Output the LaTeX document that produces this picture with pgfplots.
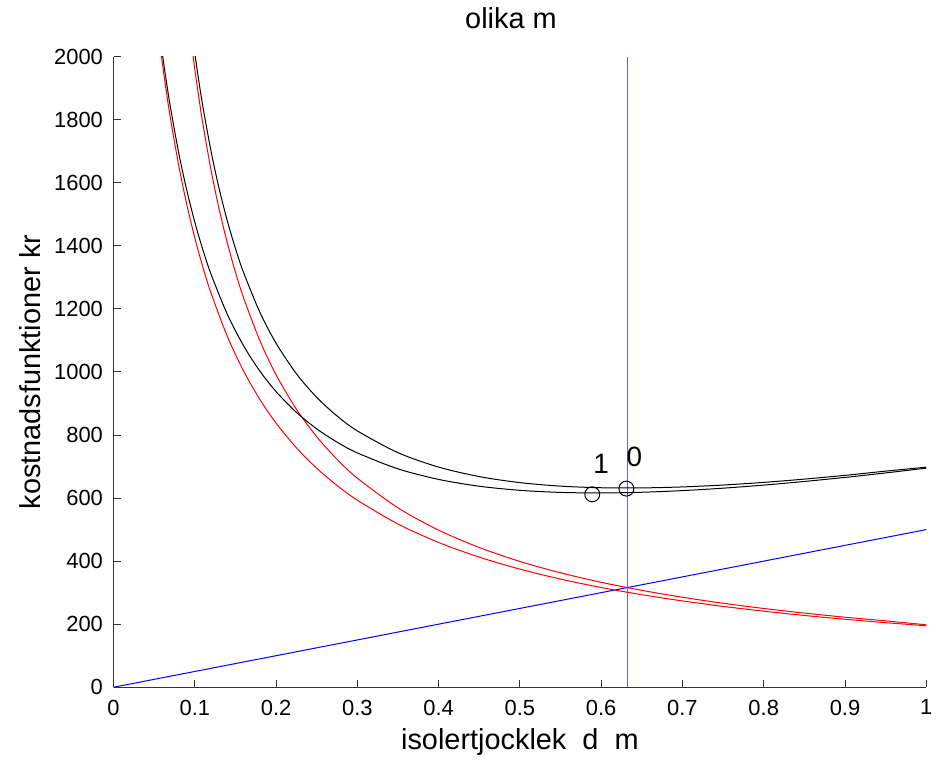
\documentclass[border=0pt]{standalone}
\usepackage{fontspec}
\setmainfont{Liberation Sans}
\usepackage{pgfplots}
\pgfplotsset{compat=1.18}
\definecolor{vline}{RGB}{102,102,230}
\begin{document}
\begin{tikzpicture}
\begin{axis}[
  at={(0,0)}, anchor=south west,
  scale only axis, width=408pt, height=316.5pt,
  xmin=0, xmax=1, ymin=0, ymax=2000,
  axis x line*=bottom, axis y line*=left,
  axis line style={-, black!80, line width=0.5pt},
  tick align=inside, major tick length=3.8pt,
  tick style={black!80, line width=0.5pt},
  xtick={0,0.1,0.2,0.3,0.4,0.5,0.6,0.7,0.8,0.9,1},
  ytick={0,200,400,600,800,1000,1200,1400,1600,1800,2000},
  scaled ticks=false,
  /pgf/number format/1000 sep={},
  /pgf/number format/assume math mode=true,
  tick label style={font=\fontsize{11}{13}\selectfont},
  xticklabel style={yshift=-2.8pt},
  yticklabel style={xshift=-1.8pt},
  xlabel={isolertjocklek\ \ d\ \ m},
  ylabel={kostnadsfunktioner kr},
  xlabel style={font=\fontsize{14.5}{17}\selectfont, at={(axis description cs:0.5,-0.0869)}, anchor=center},
  ylabel style={font=\fontsize{14.5}{17}\selectfont, at={(axis description cs:-0.1029,0.5)}, anchor=center, rotate=0},
  title={olika m},
  title style={font=\fontsize{14.5}{17}\selectfont, at={(axis description cs:0.489,1.0427)}, anchor=center},
  clip=true,
]
% vertical line at optimum
\addplot[vline, line width=0.5pt] coordinates {(0.632,0) (0.632,2000)};
% blue linear cost
\addplot[blue, line width=0.5pt] coordinates {(0,0) (1,500)};
% red curve 1
\addplot[red, line width=0.5pt, smooth, tension=0.5] coordinates {
(0.055,2082.5) (0.06,1981.0) (0.065,1888.9) (0.07,1805.1) (0.08,1657.8) (0.09,1532.8)
(0.10,1425.3) (0.11,1331.9) (0.12,1250.0) (0.14,1113.1) (0.16,1003.2) (0.18,913.1)
(0.20,837.8) (0.225,759.5) (0.25,694.6) (0.275,640.0) (0.30,593.3) (0.35,517.7)
(0.40,459.2) (0.45,412.6) (0.50,374.6) (0.55,343.0) (0.60,316.3) (0.65,293.5)
(0.70,273.7) (0.75,256.4) (0.80,241.2) (0.85,227.7) (0.90,215.6) (0.95,204.8) (1.00,194.9)};
% red curve 2
\addplot[red, line width=0.5pt, smooth, tension=0.5] coordinates {
(0.095,2061.7) (0.10,1960.9) (0.105,1869.4) (0.11,1786.1) (0.12,1640.0) (0.13,1515.9)
(0.14,1409.3) (0.15,1316.7) (0.16,1235.5) (0.18,1099.9) (0.20,991.1) (0.225,882.0)
(0.25,794.6) (0.275,723.0) (0.30,663.1) (0.35,569.0) (0.40,498.3) (0.45,443.2)
(0.50,399.0) (0.55,362.9) (0.60,332.8) (0.65,307.3) (0.70,285.4) (0.75,266.4)
(0.80,249.8) (0.85,235.2) (0.90,222.1) (0.95,210.5) (1.00,198.0)};
% black curve 1 (total, case 1)
\addplot[black, line width=0.5pt, smooth, tension=0.5] coordinates {
(0.055,2110.0) (0.06,2011.0) (0.065,1921.4) (0.07,1840.1) (0.08,1697.8) (0.09,1577.8)
(0.10,1475.3) (0.11,1386.9) (0.12,1310.0) (0.14,1183.1) (0.16,1083.2) (0.18,1003.1)
(0.20,937.8) (0.225,872.0) (0.25,819.6) (0.275,777.5) (0.30,743.3) (0.35,692.7)
(0.40,659.2) (0.45,637.6) (0.50,624.6) (0.55,618.0) (0.60,616.3) (0.65,618.5)
(0.70,623.7) (0.75,631.4) (0.80,641.2) (0.85,652.7) (0.90,665.6) (0.95,679.8) (1.00,694.9)};
% black curve 2 (total, case 0)
\addplot[black, line width=0.5pt, smooth, tension=0.5] coordinates {
(0.095,2109.2) (0.10,2010.9) (0.105,1921.9) (0.11,1841.1) (0.12,1700.0) (0.13,1580.9)
(0.14,1479.3) (0.15,1391.7) (0.16,1315.5) (0.18,1189.9) (0.20,1091.1) (0.225,994.5)
(0.25,919.6) (0.275,860.5) (0.30,813.1) (0.35,744.0) (0.40,698.3) (0.45,668.2)
(0.50,649.0) (0.55,637.9) (0.60,632.8) (0.65,632.3) (0.70,635.4) (0.75,641.4)
(0.80,649.8) (0.85,660.2) (0.90,672.1) (0.95,685.5) (1.00,698.0)};
% optimum markers
\addplot[only marks, mark=o, mark size=3.75pt, mark options={black, line width=0.5pt}] coordinates {(0.589,612) (0.631,630)};
\node[font=\fontsize{14}{16}\selectfont, anchor=center] at (axis cs:0.600,710) {1};
\node[font=\fontsize{14}{16}\selectfont, anchor=center] at (axis cs:0.641,730) {0};
\end{axis}
\path[use as bounding box] (-57pt,-36.5pt) rectangle (412.5pt,345pt);
\end{tikzpicture}
\end{document}
